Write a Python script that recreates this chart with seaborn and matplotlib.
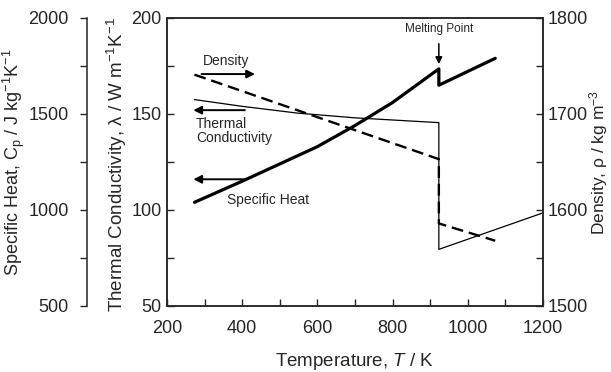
import matplotlib
matplotlib.use("Agg")
import matplotlib.pyplot as plt
import seaborn as sns

# temperature (K) and properties
temp_cp = [273, 400, 500, 600, 700, 800, 923, 923, 1073]
specific_heat = [1040, 1150, 1240, 1330, 1440, 1560, 1735, 1650, 1790]

temp_k = [273, 400, 545, 700, 923, 923, 1200]
thermal_cond = [157.5, 154, 150.5, 148, 145.5, 79.5, 98.5]

temp_rho = [273, 923, 923, 1073]
density = [1741, 1653, 1586, 1568]

x_ticks = [200, 400, 600, 800, 1000, 1200]
cp_ticks = [500, 1000, 1500, 2000]
k_ticks = [50, 100, 150, 200]
rho_ticks = [1500, 1600, 1700, 1800]

sns.set_style("ticks")
plt.rcParams["font.family"] = ["Liberation Sans", "DejaVu Sans"]
plt.rcParams["mathtext.fontset"] = "custom"
plt.rcParams["mathtext.rm"] = "Liberation Sans"
plt.rcParams["mathtext.it"] = "Liberation Sans:italic"
plt.rcParams["axes.linewidth"] = 1.1

fig = plt.figure(figsize=(6.11, 3.72), dpi=100)
ax = fig.add_axes([167 / 611, 66 / 372, 376 / 611, 288 / 372])
ax_rho = ax.twinx()
ax_cp = ax.twinx()

# lines
sns.lineplot(x=temp_cp, y=specific_heat, ax=ax_cp, sort=False, estimator=None,
             color="black", linewidth=2.3)
sns.lineplot(x=temp_k, y=thermal_cond, ax=ax, sort=False, estimator=None,
             color="black", linewidth=0.9)
sns.lineplot(x=temp_rho, y=density, ax=ax_rho, sort=False, estimator=None,
             color="black", linewidth=1.7, linestyle=(0, (5, 2.5)))

ax.set_xlim(200, 1200)
ax.set_ylim(50, 200)
ax_rho.set_ylim(1500, 1800)
ax_cp.set_ylim(500, 2000)

ax.set_xticks(x_ticks)
ax.set_xticks([300, 500, 700, 900, 1100], minor=True)
ax.set_yticks(k_ticks)
ax.set_yticks([75, 125, 175], minor=True)
ax_rho.set_yticks(rho_ticks)
ax_rho.set_yticks([1550, 1650, 1750], minor=True)
ax_cp.set_yticks(cp_ticks)
ax_cp.set_yticks([750, 1250, 1750], minor=True)

ax.tick_params(axis="x", which="both", direction="in", length=5, width=1, pad=10,
               labelsize=13, top=False)
ax.tick_params(axis="y", which="both", direction="in", length=5, width=1, pad=4,
               labelsize=13)
ax_rho.tick_params(axis="y", which="both", direction="in", length=5, width=1, pad=3,
                   labelsize=13)
ax_cp.tick_params(axis="y", which="both", direction="out", length=5, width=1, pad=8,
                  labelsize=13, left=True, labelleft=True, right=False, labelright=False)

# outer left axis for specific heat
for side in ["right", "top", "bottom"]:
    ax_cp.spines[side].set_visible(False)
ax_cp.spines["left"].set_visible(True)
ax_cp.spines["left"].set_position(("outward", 57.6))
ax_cp.yaxis.set_label_position("left")
ax_cp.patch.set_visible(False)

ax.set_xlabel("Temperature, $\\mathit{T}$ / K", fontsize=13.5, labelpad=10)
ax.set_ylabel("Thermal Conductivity, λ / W m$^{-1}$K$^{-1}$", fontsize=13.5)
ax_cp.set_ylabel("Specific Heat, C$_\\mathrm{p}$ / J kg$^{-1}$K$^{-1}$", fontsize=13)
ax_rho.set_ylabel("Density, ρ / kg m$^{-3}$", fontsize=12.5)
ax.yaxis.set_label_coords(-0.100, 0.49)
ax_cp.yaxis.set_label_coords(-0.372, 0.50)
ax_rho.yaxis.set_label_coords(1.118, 0.50)

# annotations (in thermal conductivity coordinates)
arrow = dict(arrowstyle="-|>", color="black", lw=1.4, mutation_scale=12,
             shrinkA=0, shrinkB=0)
ax.annotate("", xy=(434, 170.8), xytext=(292, 170.8), arrowprops=arrow)
ax.text(296, 177.8, "Density", fontsize=10, va="center")
ax.annotate("", xy=(270, 152), xytext=(407, 152), arrowprops=arrow)
ax.text(277, 148.5, "Thermal\nConductivity", fontsize=10, va="top", linespacing=1.05)
ax.annotate("", xy=(270, 116), xytext=(407, 116), arrowprops=arrow)
ax.text(360, 105, "Specific Heat", fontsize=10, va="center")
ax.annotate("Melting Point", xy=(923, 176), xytext=(923, 194.3), fontsize=8.5,
            ha="center", va="center",
            arrowprops=dict(arrowstyle="-|>", color="black", lw=1.1, mutation_scale=10,
                            shrinkA=4, shrinkB=0))

fig.savefig("out.png", dpi=100)
